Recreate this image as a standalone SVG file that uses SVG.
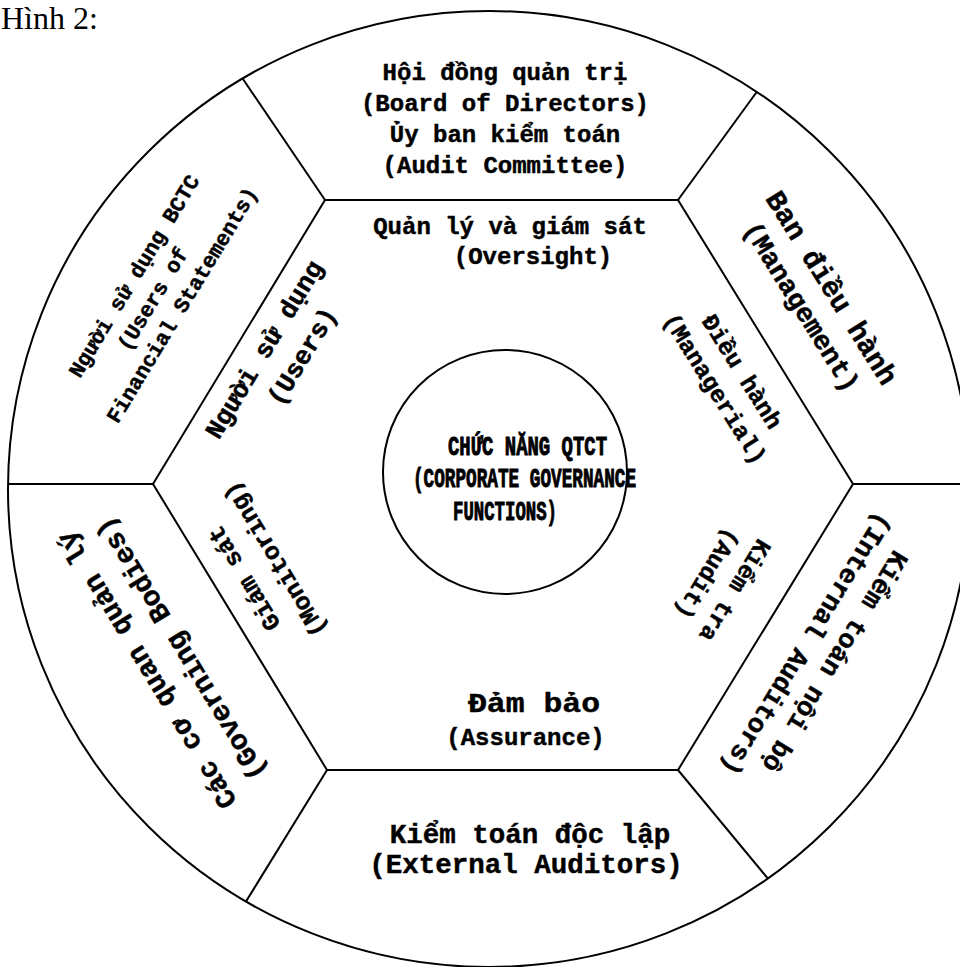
<svg xmlns="http://www.w3.org/2000/svg" width="960" height="967" viewBox="0 0 960 967">
<style>
.ln{fill:none;stroke:#000;stroke-width:2}
.t{font-family:"Liberation Mono","Courier New",monospace;font-weight:bold;fill:#000;stroke:#000;stroke-width:0.45;text-anchor:middle}
.c{font-family:"Liberation Mono","Courier New",monospace;font-weight:bold;fill:#000;stroke:#000;stroke-width:1}
.ttl{font-family:"Liberation Serif","Times New Roman",serif;font-size:32px;fill:#000}
</style>
<rect width="960" height="967" fill="#fff"/>
<text class="ttl" x="1" y="29">Hình 2:</text>
<g id="connectors">
<ellipse class="ln" cx="489" cy="489" rx="481" ry="478"/>
<polygon class="ln" points="325,200 678,200 853,484 678,770 327,770 153,484"/>
<line class="ln" x1="325" y1="200" x2="242.6" y2="78.5"/>
<line class="ln" x1="678" y1="200" x2="756.7" y2="92"/>
<line class="ln" x1="853" y1="484" x2="962" y2="484"/>
<line class="ln" x1="678" y1="770" x2="768" y2="878.7"/>
<line class="ln" x1="327" y1="770" x2="246" y2="901.5"/>
<line class="ln" x1="153" y1="484" x2="9" y2="484"/>
</g>
<g id="center">
<circle class="ln" cx="505" cy="472" r="122"/>
<text class="c" font-size="28" x="448" y="455" textLength="159" lengthAdjust="spacingAndGlyphs">CHỨC NĂNG QTCT</text>
<text class="c" font-size="28" x="413" y="487" textLength="223" lengthAdjust="spacingAndGlyphs">(CORPORATE GOVERNANCE</text>
<text class="c" font-size="28" x="453" y="520" textLength="104" lengthAdjust="spacingAndGlyphs">FUNCTIONS)</text>
</g>
<g id="board">
<text class="t" font-size="24" x="505" y="80">Hội đồng quản trị</text>
<text class="t" font-size="24" x="505" y="111">(Board of Directors)</text>
<text class="t" font-size="24" x="505" y="142">Ủy ban kiểm toán</text>
<text class="t" font-size="24" x="505" y="173">(Audit Committee)</text>
</g>
<g id="oversight">
<text class="t" font-size="24" x="510" y="234">Quản lý và giám sát</text>
<text class="t" font-size="24" x="533" y="264">(Oversight)</text>
</g>
<g id="management" transform="translate(817,297) rotate(58)">
<text class="t" font-size="28.5" x="0" y="-8">Ban điều hành</text>
<text class="t" font-size="27" x="0" y="27">(Management)</text>
</g>
<g id="managerial" transform="translate(729.5,379.5) rotate(58)">
<text class="t" font-size="24" x="0" y="-7">Điều hành</text>
<text class="t" font-size="24" x="0" y="25">(Managerial)</text>
</g>
<g id="audit" transform="translate(722.5,583) rotate(121.5)">
<text class="t" font-size="24" x="0" y="-7">Kiểm tra</text>
<text class="t" font-size="24" x="0" y="25">(Audit)</text>
</g>
<g id="internal" transform="translate(821,653) rotate(121.5)">
<text class="t" font-size="26.5" x="0" y="-8">Kiểm toán nội bộ</text>
<text class="t" font-size="26.5" x="0" y="25">(Internal Auditors)</text>
</g>
<g id="assurance">
<text class="t" font-size="28" x="534" y="712" textLength="132" lengthAdjust="spacingAndGlyphs">Đảm bảo</text>
<text class="t" font-size="24" x="525.5" y="745">(Assurance)</text>
</g>
<g id="external">
<text class="t" font-size="27.5" x="530" y="843">Kiểm toán độc lập</text>
<text class="t" font-size="27.5" x="526" y="873">(External Auditors)</text>
</g>
<g id="monitoring" transform="translate(258.5,569.5) rotate(-121.3)">
<text class="t" font-size="24.5" x="0" y="-9">Giám sát</text>
<text class="t" font-size="24.5" x="0" y="27">(Monitoring)</text>
</g>
<g id="governing" transform="translate(163,660) rotate(-121.3)">
<text class="t" font-size="28" x="0" y="-10">Các cơ quan quản lý</text>
<text class="t" font-size="28" x="0" y="30">(Governing Bodies)</text>
</g>
<g id="users" transform="translate(279,358.5) rotate(-58.8)">
<text class="t" font-size="26" x="0" y="-9">Người sử dụng</text>
<text class="t" font-size="26" x="14" y="27">(Users)</text>
</g>
<g id="users-fs" transform="translate(158,290.5) rotate(-58.8)">
<text class="t" font-size="21.5" x="0" y="-21">Người sử dụng BCTC</text>
<text class="t" font-size="21.5" x="-10" y="7">(Users of</text>
<text class="t" font-size="21.5" x="0" y="35">Financial Statements)</text>
</g>
</svg>
